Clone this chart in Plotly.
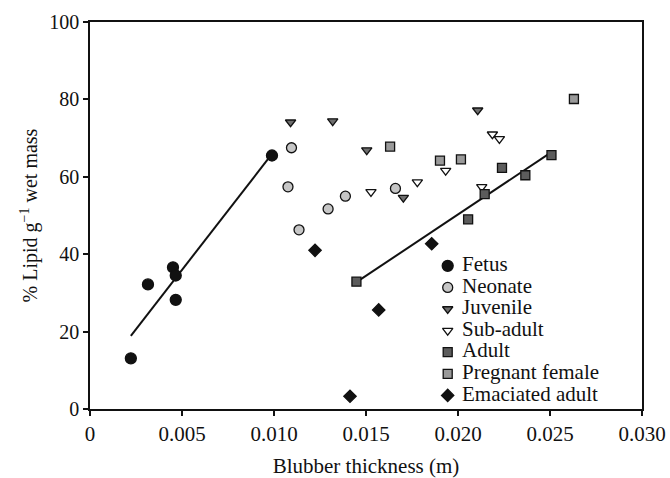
import numpy as np
import plotly.graph_objects as go

fetus_x = [0.00222, 0.00315, 0.00451, 0.00466, 0.00466, 0.00989]
fetus_y = [13.1, 32.2, 36.6, 34.5, 28.2, 65.5]

neonate_x = [0.01095, 0.01076, 0.01136, 0.01294, 0.01388, 0.01660]
neonate_y = [67.5, 57.4, 46.3, 51.7, 55.0, 57.0]

juvenile_x = [0.01090, 0.01319, 0.01504, 0.01703, 0.02107]
juvenile_y = [74.1, 74.4, 66.9, 54.6, 77.2]

subadult_x = [0.01527, 0.01779, 0.01933, 0.02187, 0.02225, 0.02129]
subadult_y = [56.1, 58.6, 61.6, 71.0, 69.8, 57.4]

adult_x = [0.01448, 0.02055, 0.02145, 0.02239, 0.02366, 0.02508]
adult_y = [32.9, 49.0, 55.5, 62.3, 60.4, 65.6]

pregnant_x = [0.01631, 0.01902, 0.02016, 0.02630]
pregnant_y = [67.8, 64.2, 64.5, 80.1]

emaciated_x = [0.01223, 0.01857, 0.01569, 0.01413]
emaciated_y = [41.0, 42.7, 25.6, 3.3]

x_ticks = [0, 0.005, 0.010, 0.015, 0.020, 0.025, 0.030]
x_tick_labels = ["0", "0.005", "0.010", "0.015", "0.020", "0.025", "0.030"]
y_ticks = [0, 20, 40, 60, 80, 100]

FONT = "Liberation Serif, Times New Roman, serif"
INK = "#111111"

fig = go.Figure()


def fit_line(xs, ys):
    m, b = np.polyfit(xs, ys, 1)
    x0, x1 = min(xs), max(xs)
    fig.add_trace(go.Scatter(x=[x0, x1], y=[m * x0 + b, m * x1 + b], mode="lines",
                             line=dict(color=INK, width=2), showlegend=False,
                             hoverinfo="skip"))


fit_line(fetus_x, fetus_y)
fit_line(adult_x, adult_y)

series = [
    ("Fetus", fetus_x, fetus_y, "circle", INK, 11),
    ("Neonate", neonate_x, neonate_y, "circle", "#c6c6c6", 10),
    ("Juvenile", juvenile_x, juvenile_y, "triangle-down", "#6e6e6e", 9),
    ("Sub-adult", subadult_x, subadult_y, "triangle-down", "#ffffff", 9),
    ("Adult", adult_x, adult_y, "square", "#5c5c5c", 9),
    ("Pregnant female", pregnant_x, pregnant_y, "square", "#9a9a9a", 9),
    ("Emaciated adult", emaciated_x, emaciated_y, "diamond", INK, 9.5),
]

# Legend drawn on an invisible overlay (fractions of the plot area)
LEG_X = 0.648
LEG_TEXT_GAP = 0.026
LEG_TOP = 0.370
LEG_STEP = 0.0558

for i, (name, xs, ys, sym, col, sz) in enumerate(series):
    mk = dict(symbol=sym, color=col, size=sz, line=dict(color=INK, width=1.3))
    fig.add_trace(go.Scatter(x=xs, y=ys, mode="markers", name=name,
                             showlegend=False, marker=mk))
    fig.add_trace(go.Scatter(x=[LEG_X], y=[LEG_TOP - i * LEG_STEP],
                             xaxis="x2", yaxis="y2", mode="markers", marker=mk,
                             showlegend=False, hoverinfo="skip", cliponaxis=False))
    fig.add_trace(go.Scatter(x=[LEG_X + LEG_TEXT_GAP], y=[LEG_TOP - i * LEG_STEP],
                             xaxis="x2", yaxis="y2", mode="text", text=[name],
                             textposition="middle right",
                             textfont=dict(family=FONT, size=21, color=INK),
                             showlegend=False, hoverinfo="skip", cliponaxis=False))

fig.update_layout(
    width=670, height=478,
    margin=dict(l=90, r=28, t=22, b=69),
    paper_bgcolor="white", plot_bgcolor="white",
    font=dict(family=FONT, size=20, color=INK),
    showlegend=False,
    xaxis2=dict(overlaying="x", range=[0, 1], visible=False),
    yaxis2=dict(overlaying="y", range=[0, 1], visible=False),
)
fig.layout.xaxis.update(range=[0, 0.030], tickvals=x_ticks, ticktext=x_tick_labels,
                        showgrid=False, zeroline=False, showline=True, linecolor=INK,
                        linewidth=1.5, mirror=True, ticks="outside", ticklen=5,
                        tickcolor=INK, tickwidth=1.5, automargin=False,
                        tickfont=dict(size=21),
                        title=dict(text="Blubber thickness (m)", standoff=26,
                                   font=dict(size=21)))
fig.layout.yaxis.update(range=[0, 100], tickvals=y_ticks,
                        showgrid=False, zeroline=False, showline=True, linecolor=INK,
                        linewidth=1.5, mirror=True, ticks="outside", ticklen=5,
                        tickcolor=INK, tickwidth=1.5, automargin=False,
                        tickfont=dict(size=20),
                        title=dict(text="% Lipid g<sup>−1</sup> wet mass", standoff=6,
                                   font=dict(size=20)))

fig.write_html("out.html", config={"displayModeBar": False},
               post_script="document.body.style.margin='0';document.body.style.overflow='hidden';")
